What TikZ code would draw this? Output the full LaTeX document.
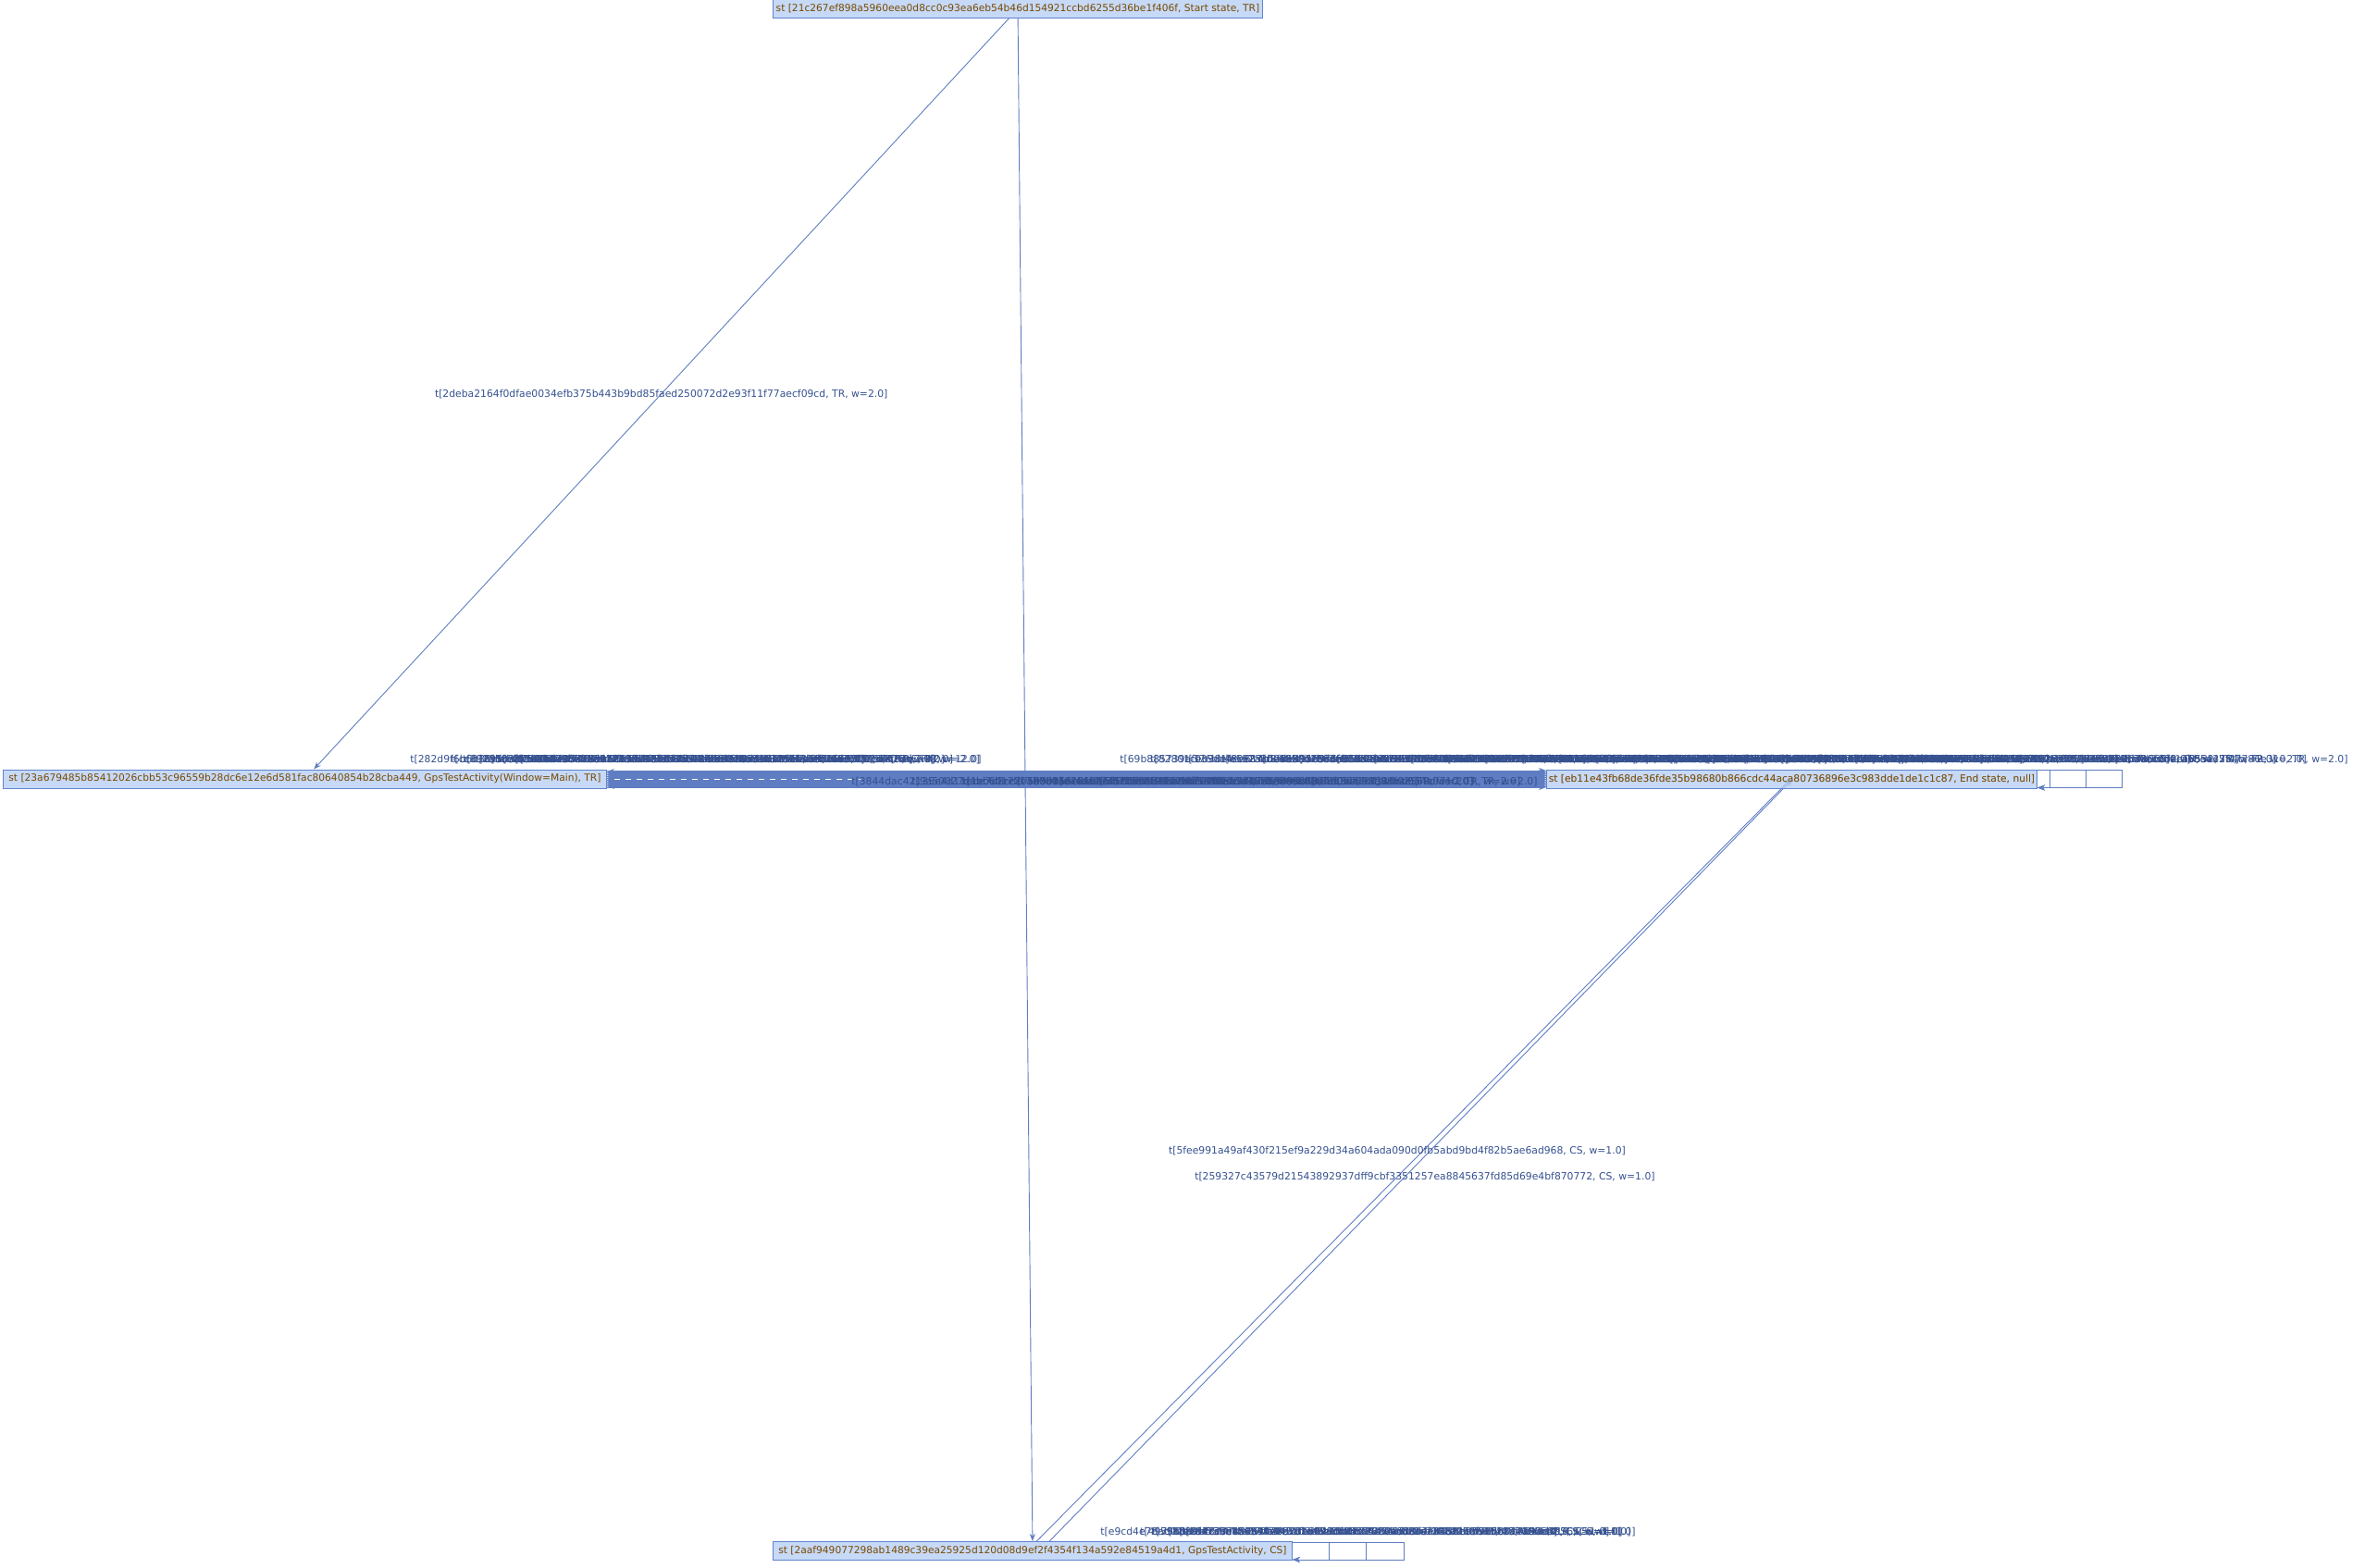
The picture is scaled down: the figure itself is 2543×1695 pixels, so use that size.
\documentclass[tikz,border=0pt]{standalone}
\usepackage{fontspec}
\setmainfont{DejaVu Sans}
\usetikzlibrary{arrows.meta,calc}
\definecolor{nodefill}{HTML}{C6D9F7}
\definecolor{nodeline}{HTML}{5F84CC}
\definecolor{edgecol}{HTML}{5F7DC2}
\definecolor{lblcol}{HTML}{34508F}
\definecolor{txtcol}{HTML}{7A4A00}
\newcommand\hd[1]{\ifcase#1 0\or1\or2\or3\or4\or5\or6\or7\or8\or9\or a\or b\or c\or d\or e\or f\fi}
\newcommand\hx[1]{\foreach \k in {1,...,#1}{\pgfmathrandominteger{\rr}{0}{15}\hd{\rr}}}
\begin{document}
\begin{tikzpicture}[x=0.5pt,y=-0.5pt,
  stnode/.style={draw=nodeline, fill=nodefill, text=txtcol, font=\fontsize{5.33}{6}\selectfont,
    inner xsep=1pt, inner ysep=0pt, minimum height=10pt, anchor=west, line width=0.5pt},
  edge/.style={draw=edgecol, line width=0.45pt, -{Stealth[length=4pt,width=3pt]}},
  loopedge/.style={draw=edgecol, line width=0.45pt, -{Stealth[length=4pt,width=3pt]}},
  lbl/.style={text=lblcol, font=\fontsize{5.4}{6}\selectfont, inner sep=0pt}]
\pgfmathsetseed{4711}
\useasboundingbox (0,0) rectangle (2543,1695);

\node[stnode, minimum width=264.5pt] (top) at (835,9.5) {st [21c267ef898a5960eea0d8cc0c93ea6eb54b46d154921ccbd6255d36be1f406f, Start state, TR]};
\node[stnode, minimum width=326pt] (main) at (3,842) {st [23a679485b85412026cbb53c96559b28dc6e12e6d581fac80640854b28cba449, GpsTestActivity(Window=Main), TR]};
\node[stnode, minimum width=265pt] (endst) at (1671,842) {st [eb11e43fb68de36fde35b98680b866cdc44aca80736896e3c983dde1de1c1c87, End state, null]};
\node[stnode, minimum width=280.5pt] (cs) at (835,1676.5) {st [2aaf949077298ab1489c39ea25925d120d08d9ef2f4354f134a592e84519a4d1, GpsTestActivity, CS]};

% band edges between main and end state
\foreach \o [count=\i] in {-9,-8,...,9}{
  \ifodd\i
    \draw[edge] ([yshift=\o*0.5pt]main.east) -- ([yshift=\o*0.5pt]endst.west);
  \else
    \draw[edge] ([yshift=\o*0.5pt]endst.west) -- ([yshift=\o*0.5pt]main.east);
  \fi
}
\draw[white, dashed, line width=0.4pt] ([xshift=4pt]main.east) -- ($(main.east)!0.27!(endst.west)$);

% in-band labels
\foreach \sx in {920,985,1040,1095,1140}{
  \node[lbl, anchor=west] at (\sx,845) {t[\hx{64}, TR, w=2.0]};
}
\node[lbl, anchor=east] at (1662,845) {t[5f5f55ccca6bb84ff5812a65a467597096631bd0b\hx{21}, TR, w=2.0]};

% main edges
\draw[edge] (top) -- node[lbl, pos=0.5] {t[2deba2164f0dfae0034efb375b443b9bd85faed250072d2e93f11f77aecf09cd, TR, w=2.0]} (main);
\draw[edge] (top) -- (cs);
\draw[edge] ([xshift=-3pt]cs.center) -- ([xshift=-0.5pt]endst.center);
\draw[edge] ([xshift=4pt]cs.center) -- ([xshift=0.5pt]endst.center);
\node[lbl] at (1510,1244) {t[5fee991a49af430f215ef9a229d34a604ada090d0fb5abd9bd4f82b5ae6ad968, CS, w=1.0]};
\node[lbl] at (1540,1272) {t[259327c43579d21543892937dff9cbf3351257ea8845637fd85d69e4bf870772, CS, w=1.0]};

% redraw nodes on top of edges
\node[stnode, minimum width=264.5pt] at (835,9.5) {st [21c267ef898a5960eea0d8cc0c93ea6eb54b46d154921ccbd6255d36be1f406f, Start state, TR]};
\node[stnode, minimum width=326pt] at (3,842) {st [23a679485b85412026cbb53c96559b28dc6e12e6d581fac80640854b28cba449, GpsTestActivity(Window=Main), TR]};
\node[stnode, minimum width=265pt, fill opacity=0.7, text opacity=1] at (1671,842) {st [eb11e43fb68de36fde35b98680b866cdc44aca80736896e3c983dde1de1c1c87, End state, null]};
\node[stnode, minimum width=280.5pt] at (835,1676.5) {st [2aaf949077298ab1489c39ea25925d120d08d9ef2f4354f134a592e84519a4d1, GpsTestActivity, CS]};

% self loops
\foreach \w in {39,79,120}{
  \draw[loopedge] ([yshift=-0.5pt]cs.north east) -- ++(\w,0) -- ++(0,19) -- ([yshift=0.5pt]cs.south east);
}
\foreach \w in {13,52,91}{
  \draw[loopedge] ([yshift=-0.5pt]endst.north east) -- ++(\w,0) -- ++(0,19) -- ([yshift=0.5pt]endst.south east);
}

% left label group
\node[lbl, anchor=west] at (443,821) {t[282d9f\hx{58}, TR, w=2.0]};
\foreach \sx in {487,500,513,526,539,552}{
  \node[lbl, anchor=west] at (\sx,821) {t[\hx{64}, TR, w=2.0]};
}
\node[lbl, anchor=east] at (1061,821) {t[d4504a\hx{58}, TR, w=12.0]};

% right label group
\node[lbl, anchor=west] at (1210,821) {t[69b8\hx{60}, TR, w=2.0]};
\node[lbl, anchor=west] at (1243,821) {t[828\hx{61}, TR, w=2.0]};
\foreach \sx in {1280,1320,1360,1400,1440,1480,1520,1560,1600,1640,1680,1720,1760,1800,1840,1880,1920,1960,2000}{
  \node[lbl, anchor=west] at (\sx,821) {t[\hx{64}, TR, w=2.0]};
}
\node[lbl, anchor=east] at (2538,821) {t[\hx{64}, TR, w=2.0]};

% bottom label group
\node[lbl, anchor=west] at (1189,1656) {t[e9cd4e\hx{58}, CS, w=1.0]};
\foreach \sx in {1232,1245,1258,1270}{
  \node[lbl, anchor=west] at (\sx,1656) {t[\hx{64}, CS, w=1.0]};
}
\node[lbl, anchor=east] at (1768,1656) {t[25f5\hx{60}, CS, w=1.0]};
\end{tikzpicture}
\end{document}
